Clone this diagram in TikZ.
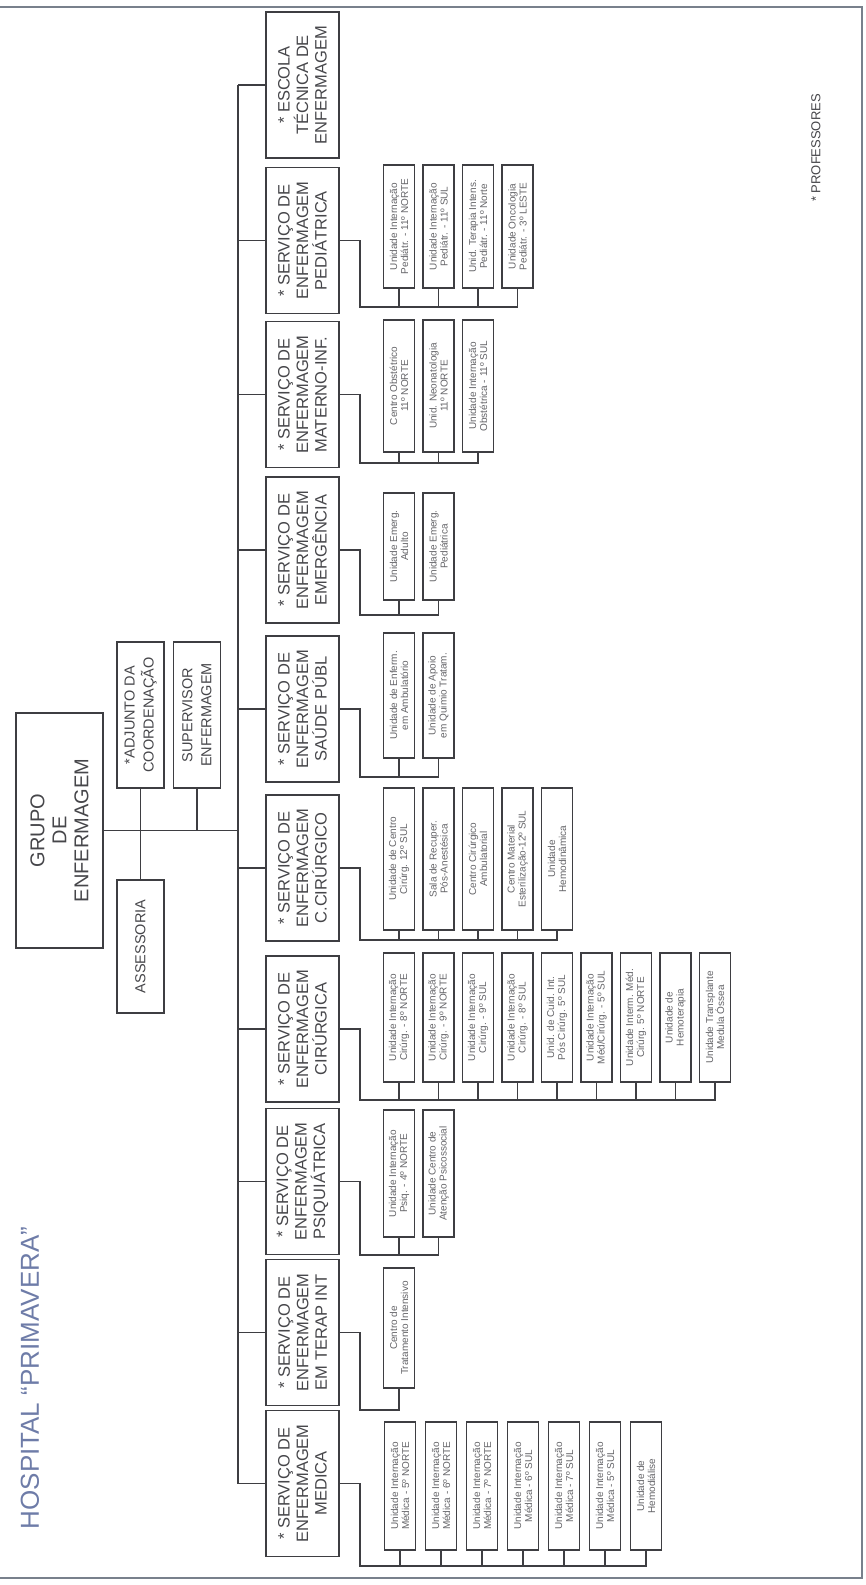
\documentclass[tikz,border=0pt]{standalone}
\usepackage{fontspec}
\setmainfont{Liberation Sans}
\usetikzlibrary{positioning,calc}
\definecolor{orgink}{RGB}{62,62,66}
\definecolor{orgtext}{RGB}{70,70,74}
\definecolor{orgfaint}{RGB}{100,100,104}
\definecolor{orgtitle}{RGB}{110,124,168}
\definecolor{orgedge}{RGB}{120,128,140}
\tikzstyle{link} = [draw=orgink, line width=1.3pt]
\tikzstyle{head} = [rectangle, draw=orgink, line width=1.6pt, rotate=90, inner sep=0pt, align=center, text=orgtext, minimum width=235pt, minimum height=87pt, font=\fontsize{20}{22}\selectfont]
\tikzstyle{staff} = [rectangle, draw=orgink, line width=1.5pt, rotate=90, inner sep=0pt, align=center, text=orgtext, minimum width=146pt, minimum height=47pt, font=\fontsize{14.5}{19}\selectfont]
\tikzstyle{service} = [rectangle, draw=orgink, line width=1.6pt, rotate=90, inner sep=0pt, align=center, text=orgtext, minimum width=146pt, minimum height=73pt, font=\fontsize{16.5}{18.5}\selectfont]
\tikzstyle{unit} = [rectangle, draw=orgink, line width=1.3pt, rotate=90, inner sep=0pt, align=center, text=orgfaint, minimum height=31pt, font=\fontsize{10}{11}\selectfont]

\begin{document}
\begin{tikzpicture}[x=1pt, y=-1pt]
    \useasboundingbox (0,0) rectangle (866,1585);
    % Page edges of the scan
    \draw[orgedge, line width=1.5pt] (0,7) -- (862,7) -- (862,1578) -- (0,1578);

    % Title
    \node[rotate=90, text=orgtitle, font=\fontsize{26}{28}\selectfont] (title) at (30,1378) {HOSPITAL ``PRIMAVERA''};
    \node[rotate=90, text=orgtext, font=\fontsize{13}{15}\selectfont] (prof) at (816,148) {* PROFESSORES};

    % Coordination
    \node[head] (grupo) at (59.5,830.5) {GRUPO\\DE\\ENFERMAGEM};
    \node[staff] (adjunto) at (140.5,715) {*ADJUNTO DA\\COORDENAÇÃO};
    \node[staff] (supervisor) at (197,715) {SUPERVISOR\\ENFERMAGEM};
    \node[staff, minimum width=133pt] (assessoria) at (140.5,946.5) {ASSESSORIA};
    \coordinate (rail) at (238,830.5);

    \draw[link] (grupo.south) -- (grupo.south -| rail);
    \draw[link] (adjunto.west) -- (adjunto.west |- assessoria.east);
    \draw[link] (supervisor.west) -- (supervisor.west |- grupo.south);

    % Services
    \node[service] (escola) at (302.5,85) {* ESCOLA\\TÉCNICA DE\\ENFERMAGEM};
    \node[service] (ped) at (302.5,240.5) {* SERVIÇO DE\\ENFERMAGEM\\PEDIÁTRICA};
    \node[service] (mat) at (302.5,394.5) {* SERVIÇO DE\\ENFERMAGEM\\MATERNO-INF.};
    \node[service] (emerg) at (302.5,550) {* SERVIÇO DE\\ENFERMAGEM\\EMERGÊNCIA};
    \node[service] (saude) at (302.5,709) {* SERVIÇO DE\\ENFERMAGEM\\SAÚDE PÚBL};
    \node[service] (ccir) at (302.5,868) {* SERVIÇO DE\\ENFERMAGEM\\C.CIRÚRGICO};
    \node[service] (cir) at (302.5,1029) {* SERVIÇO DE\\ENFERMAGEM\\CIRÚRGICA};
    \node[service] (psiq) at (302.5,1181.5) {* SERVIÇO DE\\ENFERMAGEM\\PSIQUIÁTRICA};
    \node[service] (terap) at (302.5,1332.5) {* SERVIÇO DE\\ENFERMAGEM\\EM TERAP INT};
    \node[service] (medica) at (302.5,1483.5) {* SERVIÇO DE\\ENFERMAGEM\\MEDICA};

    \draw[link] (escola.north -| rail) -- (medica.north -| rail);
    \draw[link] (escola.north) -- (escola.north -| rail) (ped.north) -- (ped.north -| rail)
        (mat.north) -- (mat.north -| rail) (emerg.north) -- (emerg.north -| rail)
        (saude.north) -- (saude.north -| rail) (ccir.north) -- (ccir.north -| rail)
        (cir.north) -- (cir.north -| rail) (psiq.north) -- (psiq.north -| rail)
        (terap.north) -- (terap.north -| rail) (medica.north) -- (medica.north -| rail);

    % Pediatrica
    \node[unit, minimum width=123pt] (ped1) at (399,226.5) {Unidade Internação\\Pediátr. - 11º NORTE};
    \node[unit, minimum width=123pt] (ped2) at (438.5,226.5) {Unidade Internação\\Pediátr. - 11º SUL};
    \node[unit, minimum width=123pt] (ped3) at (478,226.5) {Unid. Terapia Intens.\\Pediátr. - 11º Norte};
    \node[unit, minimum width=123pt] (ped4) at (517.5,226.5) {Unidade Oncologia\\Pediátr. - 3º LESTE};
    \coordinate (pedbus) at (360,307);
    \draw[link] (ped.south) -| (pedbus) -| (ped4.west);
    \draw[link] (ped1.west) -- (ped1.west |- pedbus) (ped2.west) -- (ped2.west |- pedbus)
        (ped3.west) -- (ped3.west |- pedbus);

    % Materno-infantil
    \node[unit, minimum width=132pt] (mat1) at (399,386) {Centro Obstétrico\\11º NORTE};
    \node[unit, minimum width=132pt] (mat2) at (438.5,386) {Unid. Neonatologia\\11º NORTE};
    \node[unit, minimum width=132pt] (mat3) at (478,386) {Unidade Internação\\Obstétrica - 11º SUL};
    \coordinate (matbus) at (360,463);
    \draw[link] (mat.south) -| (matbus) -| (mat3.west);
    \draw[link] (mat1.west) -- (mat1.west |- matbus) (mat2.west) -- (mat2.west |- matbus);

    % Emergencia
    \node[unit, minimum width=107pt] (emerg1) at (399,546.5) {Unidade Emerg.\\Adulto};
    \node[unit, minimum width=107pt] (emerg2) at (438.5,546.5) {Unidade Emerg.\\Pediátrica};
    \coordinate (emergbus) at (360,615);
    \draw[link] (emerg.south) -| (emergbus) -| (emerg2.west);
    \draw[link] (emerg1.west) -- (emerg1.west |- emergbus);

    % Saude publica
    \node[unit, minimum width=125pt] (saude1) at (399,695.5) {Unidade de Enferm.\\em Ambulatório};
    \node[unit, minimum width=125pt] (saude2) at (438.5,695.5) {Unidade de Apoio\\em Quimio Tratam.};
    \coordinate (saudebus) at (360,777);
    \draw[link] (saude.south) -| (saudebus) -| (saude2.west);
    \draw[link] (saude1.west) -- (saude1.west |- saudebus);

    % Centro cirurgico
    \node[unit, minimum width=142pt] (ccir1) at (399,859) {Unidade de Centro\\Cirúrg. 12º SUL};
    \node[unit, minimum width=142pt] (ccir2) at (438.5,859) {Sala de Recuper.\\Pós-Anestésica};
    \node[unit, minimum width=142pt] (ccir3) at (478,859) {Centro Cirúrgico\\Ambulatorial};
    \node[unit, minimum width=142pt] (ccir4) at (517.5,859) {Centro Material\\Esterilização-12º SUL};
    \node[unit, minimum width=142pt] (ccir5) at (557,859) {Unidade\\Hemodinâmica};
    \coordinate (ccirbus) at (360,940);
    \draw[link] (ccir.south) -| (ccirbus) -| (ccir5.west);
    \draw[link] (ccir1.west) -- (ccir1.west |- ccirbus) (ccir2.west) -- (ccir2.west |- ccirbus)
        (ccir3.west) -- (ccir3.west |- ccirbus) (ccir4.west) -- (ccir4.west |- ccirbus);

    % Cirurgica
    \node[unit, minimum width=129pt] (cir1) at (399,1017.5) {Unidade Internação\\Cirúrg. - 8º NORTE};
    \node[unit, minimum width=129pt] (cir2) at (438.5,1017.5) {Unidade Internação\\Cirúrg. - 9º NORTE};
    \node[unit, minimum width=129pt] (cir3) at (478,1017.5) {Unidade Internação\\Cirúrg. - 9º SUL};
    \node[unit, minimum width=129pt] (cir4) at (517.5,1017.5) {Unidade Internação\\Cirúrg. - 8º SUL};
    \node[unit, minimum width=129pt] (cir5) at (557,1017.5) {Unid. de Cuid. Int.\\Pós Cirúrg. 5º SUL};
    \node[unit, minimum width=129pt] (cir6) at (596.5,1017.5) {Unidade Internação\\Méd/Cirúrg. - 5º SUL};
    \node[unit, minimum width=129pt] (cir7) at (636,1017.5) {Unidade Interm. Méd.\\Cirúrg. 5º NORTE};
    \node[unit, minimum width=129pt] (cir8) at (675.5,1017.5) {Unidade de\\Hemoterapia};
    \node[unit, minimum width=129pt] (cir9) at (715,1017.5) {Unidade Transplante\\Medula Óssea};
    \coordinate (cirbus) at (360,1100);
    \draw[link] (cir.south) -| (cirbus) -| (cir9.west);
    \draw[link] (cir1.west) -- (cir1.west |- cirbus) (cir2.west) -- (cir2.west |- cirbus)
        (cir3.west) -- (cir3.west |- cirbus) (cir4.west) -- (cir4.west |- cirbus)
        (cir5.west) -- (cir5.west |- cirbus) (cir6.west) -- (cir6.west |- cirbus)
        (cir7.west) -- (cir7.west |- cirbus) (cir8.west) -- (cir8.west |- cirbus);

    % Psiquiatrica
    \node[unit, minimum width=127pt] (psiq1) at (399,1173.5) {Unidade Internação\\Psiq. - 4º NORTE};
    \node[unit, minimum width=127pt] (psiq2) at (438.5,1173.5) {Unidade Centro de\\Atenção Psicossocial};
    \coordinate (psiqbus) at (360,1255);
    \draw[link] (psiq.south) -| (psiqbus) -| (psiq2.west);
    \draw[link] (psiq1.west) -- (psiq1.west |- psiqbus);

    % Terapia intensiva
    \node[unit, minimum width=120pt] (terap1) at (399,1328) {Centro de\\Tratamento Intensivo};
    \coordinate (terapbus) at (360,1410);
    \draw[link] (terap.south) -| (terapbus) -| (terap1.west);

    % Medica
    \node[unit, minimum width=128pt] (med1) at (400,1486) {Unidade Internação\\Médica - 5º NORTE};
    \node[unit, minimum width=128pt] (med2) at (441,1486) {Unidade Internação\\Médica - 6º NORTE};
    \node[unit, minimum width=128pt] (med3) at (482,1486) {Unidade Internação\\Médica - 7º NORTE};
    \node[unit, minimum width=128pt] (med4) at (523,1486) {Unidade Internação\\Médica - 6º SUL};
    \node[unit, minimum width=128pt] (med5) at (564,1486) {Unidade Internação\\Médica - 7º SUL};
    \node[unit, minimum width=128pt] (med6) at (605,1486) {Unidade Internação\\Médica - 5º SUL};
    \node[unit, minimum width=128pt] (med7) at (646,1486) {Unidade de\\Hemodiálise};
    \coordinate (medbus) at (360,1566);
    \draw[link] (medica.south) -| (medbus) -| (med7.west);
    \draw[link] (med1.west) -- (med1.west |- medbus) (med2.west) -- (med2.west |- medbus)
        (med3.west) -- (med3.west |- medbus) (med4.west) -- (med4.west |- medbus)
        (med5.west) -- (med5.west |- medbus) (med6.west) -- (med6.west |- medbus);
\end{tikzpicture}
\end{document}
